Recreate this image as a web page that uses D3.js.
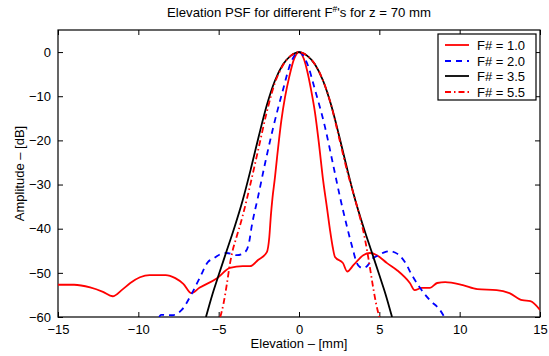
<!DOCTYPE html>
<html><head><meta charset="utf-8">
<script src="https://cdn.jsdelivr.net/npm/d3@7"></script>
<style>body{margin:0;background:#fff}svg{display:block}text{font-family:"Liberation Sans",Arial,sans-serif}</style>
</head><body>
<script>
// ---- data ----
const xTicks = [-15, -10, -5, 0, 5, 10, 15];
const yTicks = [-60, -50, -40, -30, -20, -10, 0];
const legendLabels = ["F# = 1.0", "F# = 2.0", "F# = 3.5", "F# = 5.5"];

const f10x = [-15,-14,-13,-12.2,-11.6,-11,-10.5,-9.9,-9.3,-8.3,-7.7,-7.2,-6.7,-6.2,-5.1,-4.3,-3.5,-3.05,-2.55,-2.0,-1.85,-1.75,-1.65,-1.5,-1.37,-1.1,-0.87,-0.6,-0.3,0,0.3,0.5,0.75,1.0,1.25,1.5,1.75,1.93,2.1,2.24,2.74,3.0,3.4,4.0,4.42,4.85,5.48,6.1,6.9,7.2,7.65,8.15,8.6,9.1,10.2,11.1,12.3,13.1,13.9,14.4,15];
const f10y = [-52.7,-52.7,-53.3,-54.3,-55.3,-53.8,-52.3,-51,-50.5,-50.5,-51.2,-52.5,-54.6,-53.4,-51.2,-48.9,-48.5,-48.5,-47.1,-45.3,-42,-37,-33,-28.5,-24,-15.5,-10.2,-5.5,-1.5,0,-1.5,-4.1,-8.5,-13.8,-21,-29,-35.5,-40.3,-44.2,-46.4,-47.8,-49.7,-48.2,-46.0,-45.5,-46.0,-47.8,-49.4,-52.3,-53.9,-53.4,-53.4,-52.3,-52.1,-52.8,-53.7,-53.9,-54.6,-56.2,-56.4,-58.4];

const f20x = [-8.7,-8.6,-7.9,-7.3,-6.66,-6.16,-5.66,-5.35,-4.9,-4.5,-3.86,-3.36,-3.1,-2.95,-2.55,-2.1,-1.6,-1.0,-0.5,0,0.5,1.0,1.62,2.1,2.55,2.99,3.36,3.6,3.8,4.0,4.23,4.6,4.85,5.35,5.7,5.97,6.3,6.6,7.03,7.53,8.15,8.77,9.05];
const f20y = [-60,-59.5,-59.6,-58.4,-54.6,-51,-47.5,-46.8,-45.8,-45.5,-46,-45.3,-43,-39.6,-32.8,-25,-17,-8.6,-2.3,0,-2.5,-8.6,-17,-25.1,-32.8,-39.6,-44.8,-47.8,-48.7,-48.9,-48.5,-46.7,-46.2,-45.3,-45.1,-45.4,-46.2,-47.6,-50.5,-53.4,-56.2,-58.4,-60];

const f35x = [-5.79,-5.4,-5.0,-4.5,-4.0,-3.5,-3.0,-2.5,-2.0,-1.5,-1.0,-0.5,0,0.5,1.0,1.5,2.0,2.5,3.0,3.5,4.0,4.5,5.0,5.4,5.79];
const f35y = [-60,-55,-50.5,-45,-39.5,-33.5,-26.5,-19,-12,-6.5,-2.8,-0.8,0,-0.8,-2.8,-6.5,-12,-19,-26.5,-33.5,-39.5,-45,-50.5,-55,-60];

const f55x = [-4.9,-4.7,-4.48,-4.3,-4.1,-3.98,-3.5,-3.0,-2.5,-2.0,-1.5,-1.0,-0.5,0,0.5,1.0,1.5,2.0,2.5,3.0,3.5,3.8,4.0,4.23,4.4,4.6,4.8,5.0];
const f55y = [-60,-57,-52.3,-48,-44.5,-43,-37,-29.5,-21.5,-13.5,-7,-3,-0.8,0,-0.8,-2.8,-6.5,-12,-19.5,-27,-33.5,-37.5,-40.5,-44.8,-48.5,-53,-57,-60];

const seriesX = [f10x, f20x, f35x, f55x];
const seriesY = [f10y, f20y, f35y, f55y];
const colors = ["#ff0000", "#0000ff", "#000000", "#ff0000"];
const dashes = [null, "6,5", null, "6,3,1.5,3"];

// ---- layout ----
const W = 549, H = 356;
const m = {left: 58, right: 540, top: 30, bottom: 317};
const svg = d3.select("body").append("svg").attr("width", W).attr("height", H);
const x = d3.scaleLinear().domain([-15, 15]).range([m.left, m.right]);
const y = d3.scaleLinear().domain([-60, 5]).range([m.bottom, m.top]);
const fs = 13;

svg.append("defs").append("clipPath").attr("id", "clip")
  .append("rect").attr("x", m.left).attr("y", m.top)
  .attr("width", m.right - m.left).attr("height", m.bottom - m.top);

const fmt = d => d < 0 ? "\u2212" + Math.abs(d) : String(d);
const tl = 5;

const gx = svg.append("g").attr("transform", `translate(0,${m.bottom})`)
  .call(d3.axisBottom(x).tickValues(xTicks).tickFormat(fmt).tickSizeInner(-tl).tickSizeOuter(0).tickPadding(8));
const gxt = svg.append("g").attr("transform", `translate(0,${m.top})`)
  .call(d3.axisTop(x).tickValues(xTicks).tickFormat("").tickSizeInner(-tl).tickSizeOuter(0));
const gy = svg.append("g").attr("transform", `translate(${m.left},0)`)
  .call(d3.axisLeft(y).tickValues(yTicks).tickFormat(fmt).tickSizeInner(-tl).tickSizeOuter(0).tickPadding(7));
const gyr = svg.append("g").attr("transform", `translate(${m.right},0)`)
  .call(d3.axisRight(y).tickValues(yTicks).tickFormat("").tickSizeInner(-tl).tickSizeOuter(0));

[gx, gxt, gy, gyr].forEach(g => {
  g.select(".domain").remove();
  g.selectAll("line").attr("stroke", "#000");
  g.selectAll("text").attr("font-size", fs).attr("fill", "#000")
   .attr("font-family", '"Liberation Sans",Arial,sans-serif');
});

svg.append("rect").attr("x", m.left).attr("y", m.top)
  .attr("width", m.right - m.left).attr("height", m.bottom - m.top)
  .attr("fill", "none").attr("stroke", "#000").attr("stroke-width", 1.2);

const line = d3.line().x(d => x(d[0])).y(d => y(d[1])).curve(d3.curveMonotoneX);
const gl = svg.append("g").attr("clip-path", "url(#clip)");
seriesX.forEach((xs, i) => {
  const pts = xs.map((v, j) => [v, seriesY[i][j]]);
  gl.append("path").datum(pts).attr("d", line)
    .attr("fill", "none").attr("stroke", colors[i]).attr("stroke-width", 1.8)
    .attr("stroke-dasharray", dashes[i]).attr("stroke-linejoin", "round");
});

const t = svg.append("text").attr("x", (m.left + m.right) / 2).attr("y", 17)
  .attr("text-anchor", "middle").attr("font-size", 13.2);
t.append("tspan").text("Elevation PSF for different F");
t.append("tspan").attr("font-size", 8.5).attr("dy", -5).text("#");
t.append("tspan").attr("dy", 5).text("'s for z = 70 mm");

svg.append("text").attr("x", (m.left + m.right) / 2).attr("y", 348)
  .attr("text-anchor", "middle").attr("font-size", fs).text("Elevation \u2013 [mm]");
svg.append("text").attr("transform", `translate(24,${(m.top + m.bottom) / 2}) rotate(-90)`)
  .attr("text-anchor", "middle").attr("font-size", fs).text("Amplitude \u2013 [dB]");

const lg = svg.append("g");
lg.append("rect").attr("x", 438).attr("y", 34).attr("width", 98).attr("height", 66)
  .attr("fill", "#fff").attr("stroke", "#000").attr("stroke-width", 1.2);
const rowY = [45, 61, 76, 92];
legendLabels.forEach((lab, i) => {
  lg.append("line").attr("x1", 445).attr("x2", 469).attr("y1", rowY[i]).attr("y2", rowY[i])
    .attr("stroke", colors[i]).attr("stroke-width", 1.8).attr("stroke-dasharray", dashes[i]);
  lg.append("text").attr("x", 477).attr("y", rowY[i] + 4.5).attr("font-size", fs).text(lab);
});
</script>
</body></html>
